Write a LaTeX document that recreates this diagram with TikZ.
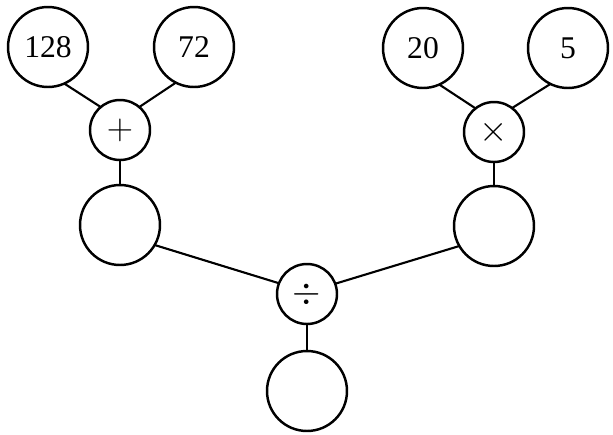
\documentclass[tikz,border=0pt]{standalone}
\usepackage{fontspec}
\setmainfont{Liberation Serif}
\begin{document}
\begin{tikzpicture}[x=0.02cm,y=-0.02cm,
  big/.style={circle,draw,line width=1.4pt,minimum size=1.6cm,inner sep=0pt,outer sep=0pt,font=\fontsize{18}{20}\selectfont},
  op/.style={circle,draw,line width=1.4pt,minimum size=1.2cm,inner sep=0pt,outer sep=0pt,font=\fontsize{20}{22}\selectfont},
  conn/.style={line width=1.2pt}]
\useasboundingbox (0,0) rectangle (613,434);
\node[big] (a) at (48,47) {128};
\node[big] (b) at (194,47) {72};
\node[op] (plus) at (120,130) {$+$};
\node[big] (l) at (120,225) {};
\node[big] (c) at (423,48) {20};
\node[big] (d) at (568,48) {5};
\node[op] (times) at (494,132) {$\times$};
\node[big] (r) at (494,226) {};
\node[op] (div) at (307,294) {$\div$};
\node[big] (res) at (307,391) {};
\draw[conn] (a.-66) -- (plus.130);
\draw[conn] (b.-117) -- (plus.50);
\draw[conn] (plus.south) -- (l.north);
\draw[conn] (c.-66) -- (times.128);
\draw[conn] (d.-116) -- (times.53);
\draw[conn] (times.south) -- (r.north);
\draw[conn] (l.-30) -- (div.159);
\draw[conn] (r.210) -- (div.20);
\draw[conn] (div.south) -- (res.north);
\end{tikzpicture}
\end{document}
